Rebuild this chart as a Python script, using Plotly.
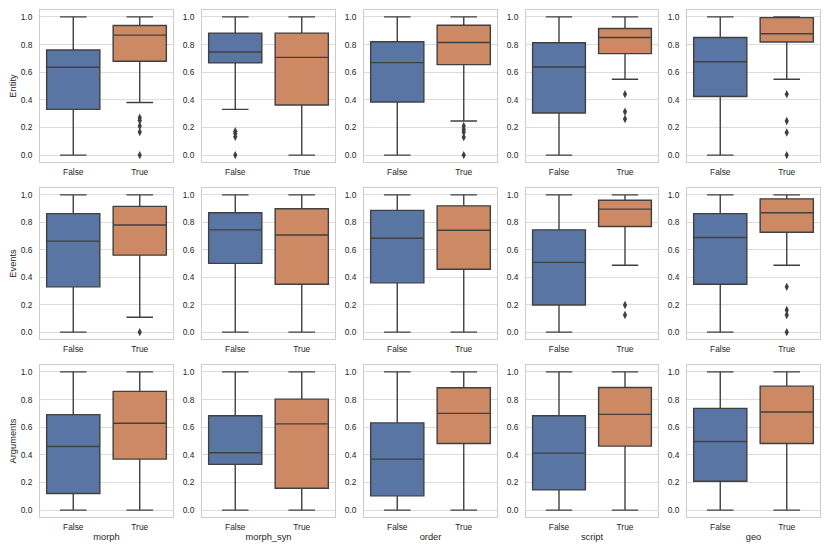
import plotly.graph_objects as go

features = ["morph", "morph_syn", "order", "script", "geo"]
rows_names = ["Entity", "Events", "Arguments"]
cats = ["False", "True"]

# stats per [row][col][cat] : (lower, q1, median, q3, upper)
entity_false = [(0, 0.331, 0.636, 0.760, 1), (0.331, 0.667, 0.746, 0.883, 1), (0, 0.384, 0.669, 0.820, 1),
                (0, 0.305, 0.638, 0.813, 1), (0, 0.424, 0.676, 0.851, 1)]
entity_true = [(0.381, 0.679, 0.868, 0.938, 1), (0, 0.362, 0.707, 0.883, 1), (0.247, 0.655, 0.815, 0.940, 1),
               (0.549, 0.734, 0.851, 0.916, 1), (0.549, 0.818, 0.878, 0.995, 1)]
events_false = [(0, 0.330, 0.663, 0.863, 1), (0, 0.501, 0.745, 0.870, 1), (0, 0.359, 0.684, 0.887, 1),
                (0, 0.198, 0.508, 0.745, 1), (0, 0.349, 0.689, 0.863, 1)]
events_true = [(0.108, 0.561, 0.781, 0.916, 1), (0, 0.349, 0.708, 0.899, 1), (0, 0.458, 0.742, 0.920, 1),
               (0.487, 0.769, 0.896, 0.961, 1), (0.487, 0.728, 0.870, 0.971, 1)]
args_false = [(0, 0.120, 0.460, 0.691, 1), (0, 0.331, 0.415, 0.683, 1), (0, 0.103, 0.369, 0.631, 1),
              (0, 0.146, 0.412, 0.683, 1), (0, 0.209, 0.496, 0.736, 1)]
args_true = [(0, 0.369, 0.628, 0.859, 1), (0, 0.158, 0.624, 0.803, 1), (0, 0.482, 0.700, 0.885, 1),
             (0, 0.463, 0.693, 0.887, 1), (0, 0.482, 0.710, 0.897, 1)]

entity_out_false = [[], [0.173, 0.156, 0.132, 0.0], [], [], []]
entity_out_true = [[0.27, 0.25, 0.21, 0.167, 0.0], [], [0.21, 0.185, 0.167, 0.13, 0.0], [0.441, 0.314, 0.261],
                   [0.441, 0.247, 0.163, 0.0]]
events_out_false = [[], [], [], [], []]
events_out_true = [[0.0], [], [], [0.198, 0.125], [0.330, 0.161, 0.125, 0.0]]
args_out_false = [[], [], [], [], []]
args_out_true = [[], [], [], [], []]

stats = [(entity_false, entity_true), (events_false, events_true), (args_false, args_true)]
outs = [(entity_out_false, entity_out_true), (events_out_false, events_out_true), (args_out_false, args_out_true)]

colors = ["#5975a4", "#cc8963"]
line_col = "#404040"
grid_col = "#dcdcdc"
frame_col = "#cccccc"
font = "Liberation Sans, Arial, sans-serif"

# the page body adds an 8px margin, so the figure is drawn 8px smaller and offset
OFF = 8
W, H = 830 - OFF, 554 - OFF
col_px = [(40, 173), (202, 335), (364, 497), (526, 658), (687, 820)]
row_px = [(10, 162), (188, 339), (365, 517)]

fig = go.Figure()
layout = {}
for r in range(3):
    for c in range(5):
        k = r * 5 + c + 1
        xa = "x" if k == 1 else f"x{k}"
        ya = "y" if k == 1 else f"y{k}"
        for ci in range(2):
            lo, q1, med, q3, hi = stats[r][ci][c]
            fig.add_trace(go.Box(
                x=[cats[ci]], q1=[q1], median=[med], q3=[q3], lowerfence=[lo], upperfence=[hi],
                fillcolor=colors[ci], line=dict(color=line_col, width=1.4),
                width=0.8, whiskerwidth=0.5, boxpoints=False, showlegend=False,
                xaxis=xa, yaxis=ya, hoverinfo="skip"))
            ov = outs[r][ci][c]
            if ov:
                fig.add_trace(go.Scatter(
                    x=[cats[ci]] * len(ov), y=ov, mode="markers",
                    marker=dict(symbol="diamond-tall", size=6, color=line_col),
                    showlegend=False, xaxis=xa, yaxis=ya, hoverinfo="skip"))
        x0, x1 = col_px[c]
        y0, y1 = row_px[r]
        x0 -= OFF; x1 -= OFF; y0 -= OFF; y1 -= OFF
        layout["xaxis" if k == 1 else f"xaxis{k}"] = dict(
            domain=[x0 / W, x1 / W], anchor=ya, type="category",
            categoryorder="array", categoryarray=cats, range=[-0.5, 1.5],
            showgrid=False, zeroline=False, showline=True, linecolor=frame_col, linewidth=1,
            mirror=True, ticks="", ticklabelstandoff=2,
            tickfont=dict(family=font, size=8.4, color="#262626"),
            title=dict(text=features[c] if r == 2 else "", font=dict(family=font, size=9.3, color="#262626"),
                       standoff=2),
            automargin=False)
        layout["yaxis" if k == 1 else f"yaxis{k}"] = dict(
            domain=[1 - y1 / H, 1 - y0 / H], anchor=xa, range=[-0.05, 1.05],
            tickvals=[0, 0.2, 0.4, 0.6, 0.8, 1.0], tickformat=".1f",
            showgrid=True, gridcolor=grid_col, gridwidth=1, zeroline=False,
            showline=True, linecolor=frame_col, linewidth=1, mirror=True, ticks="",
            ticklabelstandoff=5,
            tickfont=dict(family=font, size=8.4, color="#262626"),
            title=dict(text=rows_names[r] if c == 0 else "", font=dict(family=font, size=9.3, color="#262626"),
                       standoff=3),
            automargin=False)

fig.update_layout(**layout)
fig.update_layout(width=W, height=H, margin=dict(l=0, r=0, t=0, b=0),
                  paper_bgcolor="white", plot_bgcolor="white")
fig.write_html("out.html")
